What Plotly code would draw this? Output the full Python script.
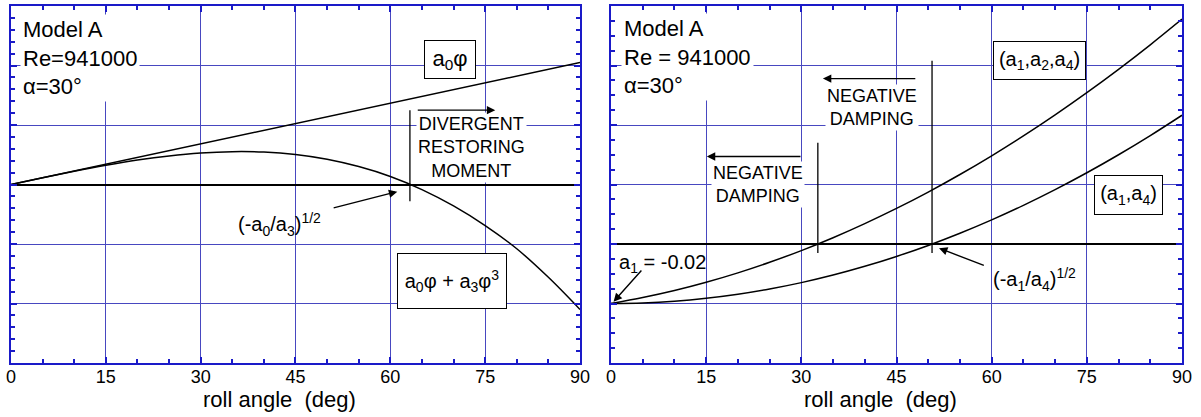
import plotly.graph_objects as go

# ---------------- data ----------------
phi = [0, 5, 10, 15, 20, 25, 30, 35, 40, 45, 50, 55, 60, 65, 70, 75, 80, 85, 90]

# left panel
lin_phi = [0, 90]
lin_moment = [0.0, 2.05]                     # a0*phi
cubic_moment = [0.0, 0.113, 0.222, 0.322, 0.410, 0.480, 0.529, 0.552, 0.545, 0.504,
                0.424, 0.301, 0.135, -0.085, -0.360, -0.690, -1.080, -1.560, -2.100]
left_root = 63.1                             # (-a0/a3)^1/2
left_root_span = [-0.28, 1.25]

# right panel
damp_a124 = [-1.0, -0.900, -0.782, -0.643, -0.485, -0.307, -0.111, 0.106, 0.343, 0.598,
             0.873, 1.168, 1.482, 1.816, 2.170, 2.543, 2.935, 3.347, 3.779]
damp_a14 = [-1.0, -0.990, -0.961, -0.912, -0.844, -0.756, -0.649, -0.522, -0.375, -0.209,
            -0.024, 0.181, 0.406, 0.650, 0.914, 1.197, 1.500, 1.822, 2.164]
root_a124 = 32.6
root_a124_span = [-0.15, 1.70]
root_a14 = 50.6                              # (-a1/a4)^1/2
root_a14_span = [-0.15, 3.08]

x_tick_vals = [0, 15, 30, 45, 60, 75, 90]
x_tick_text = ["0", "15", "30", "45", "60", "75", "90"]
x_title = "roll angle  (deg)"

# ---------------- styling ----------------
FONT = "Liberation Sans, Arial, sans-serif"
AXIS_BLUE = "#1a1ac8"
GRID_BLUE = "#4848c0"
LINE = dict(color="black", width=1.5)

fig = go.Figure()

# left traces
fig.add_trace(go.Scatter(x=lin_phi, y=lin_moment, mode="lines", line=LINE,
                         xaxis="x", yaxis="y", showlegend=False))
fig.add_trace(go.Scatter(x=phi, y=cubic_moment, mode="lines", line=dict(LINE, shape="spline"),
                         xaxis="x", yaxis="y", showlegend=False))
fig.add_trace(go.Scatter(x=[left_root, left_root], y=left_root_span, mode="lines",
                         line=dict(color="black", width=1.3), xaxis="x", yaxis="y", showlegend=False))

# right traces
fig.add_trace(go.Scatter(x=phi, y=damp_a124, mode="lines", line=dict(LINE, shape="spline"),
                         xaxis="x2", yaxis="y2", showlegend=False))
fig.add_trace(go.Scatter(x=phi, y=damp_a14, mode="lines", line=dict(LINE, shape="spline"),
                         xaxis="x2", yaxis="y2", showlegend=False))
fig.add_trace(go.Scatter(x=[root_a124, root_a124], y=root_a124_span, mode="lines",
                         line=dict(color="black", width=1.3), xaxis="x2", yaxis="y2", showlegend=False))
fig.add_trace(go.Scatter(x=[root_a14, root_a14], y=root_a14_span, mode="lines",
                         line=dict(color="black", width=1.3), xaxis="x2", yaxis="y2", showlegend=False))


def xaxis_cfg(domain, anchor):
    return dict(
        domain=domain, anchor=anchor, range=[0, 90],
        tickmode="array", tickvals=x_tick_vals, ticktext=x_tick_text,
        ticks="inside", ticklen=6, tickwidth=1.5, tickcolor=AXIS_BLUE,
        showline=True, linecolor=AXIS_BLUE, linewidth=2, mirror="ticks",
        showgrid=True, gridcolor=GRID_BLUE, gridwidth=1,
        zeroline=False,
        tickfont=dict(family=FONT, size=18, color="black"),
        ticklabelstandoff=-4,
        minor=dict(dtick=5, tick0=0, ticks="inside", ticklen=4, tickcolor=AXIS_BLUE,
                   showgrid=False),
    )


def yaxis_cfg(rng, anchor, minor_dtick):
    return dict(
        range=rng, anchor=anchor, domain=[0, 1],
        dtick=1, tick0=0, showticklabels=False,
        ticks="inside", ticklen=6, tickwidth=1.5, tickcolor=AXIS_BLUE,
        showline=True, linecolor=AXIS_BLUE, linewidth=2, mirror="ticks",
        showgrid=True, gridcolor=GRID_BLUE, gridwidth=1,
        zeroline=True, zerolinecolor="black", zerolinewidth=1.5,
        minor=dict(dtick=minor_dtick, ticks="inside", ticklen=4, tickcolor=AXIS_BLUE,
                   showgrid=False),
    )


fig.update_layout(
    width=1201, height=417,
    margin=dict(l=11, r=19, t=4, b=54),
    paper_bgcolor="white", plot_bgcolor="white",
    font=dict(family=FONT, color="black"),
    xaxis=xaxis_cfg([0, 0.4859], "y"),
    yaxis=yaxis_cfg([-3, 3], "x", 0.2),
    xaxis2=xaxis_cfg([0.5124, 1], "y2"),
    yaxis2=yaxis_cfg([-2, 4], "x2", 0.25),
)

ann = []
# axis titles (offset left of centre as in the original)
ann.append(dict(xref="x", yref="paper", x=42.4, y=-0.103, yanchor="middle", text=x_title,
                showarrow=False, font=dict(size=22)))
ann.append(dict(xref="x2", yref="paper", x=42.4, y=-0.103, yanchor="middle", text=x_title,
                showarrow=False, font=dict(size=22)))

# ----- left panel text -----
ann.append(dict(xref="x", yref="y", x=1.5, y=2.87, xanchor="left", yanchor="top", align="left",
                text="Model A<br>Re=941000<br>α=30°", showarrow=False,
                font=dict(size=22), bgcolor="white", borderpad=2))
ann.append(dict(xref="x", yref="y", x=69.4, y=2.1, text="a<sub>0</sub>φ", showarrow=False,
                font=dict(size=22), bgcolor="white", bordercolor="black", borderwidth=1,
                width=50, height=37, borderpad=0))
ann.append(dict(xref="x", yref="y", x=69.8, y=-1.63, text="a<sub>0</sub>φ + a<sub>3</sub>φ<sup>3</sup>",
                showarrow=False, font=dict(size=20), bgcolor="white", bordercolor="black",
                borderwidth=1, width=108, height=54, borderpad=0))
ann.append(dict(xref="x", yref="y", x=72.9, y=0.62, text="DIVERGENT<br>RESTORING<br>MOMENT",
                showarrow=False, font=dict(size=18), bgcolor="white", borderpad=1))
ann.append(dict(xref="x", yref="y", x=76.6, y=1.25, ax=64.1, ay=1.25, axref="x", ayref="y",
                text="", showarrow=True, arrowhead=2, arrowsize=1.2, arrowwidth=1.4, arrowcolor="black"))
ann.append(dict(xref="x", yref="y", x=42.4, y=-0.68, text="(-a<sub>0</sub>/a<sub>3</sub>)<sup>1/2</sup>",
                showarrow=False, font=dict(size=20)))
ann.append(dict(xref="x", yref="y", x=61.1, y=-0.12, ax=50.8, ay=-0.40, axref="x", ayref="y",
                text="", showarrow=True, arrowhead=2, arrowsize=1.2, arrowwidth=1.4, arrowcolor="black"))

# ----- right panel text -----
ann.append(dict(xref="x2", yref="y2", x=1.5, y=3.89, xanchor="left", yanchor="top", align="left",
                text="Model A<br>Re = 941000<br>α=30°", showarrow=False,
                font=dict(size=22), bgcolor="white", borderpad=2))
ann.append(dict(xref="x2", yref="y2", x=67.6, y=3.08, text="(a<sub>1</sub>,a<sub>2</sub>,a<sub>4</sub>)",
                showarrow=False, font=dict(size=20), bgcolor="white", bordercolor="black",
                borderwidth=1, width=91, height=37, borderpad=0))
ann.append(dict(xref="x2", yref="y2", x=81.5, y=0.83, text="(a<sub>1</sub>,a<sub>4</sub>)",
                showarrow=False, font=dict(size=20), bgcolor="white", bordercolor="black",
                borderwidth=1, width=67, height=38, borderpad=0))
ann.append(dict(xref="x2", yref="y2", x=41.1, y=2.3, text="NEGATIVE<br>DAMPING",
                showarrow=False, font=dict(size=18), bgcolor="white", borderpad=1))
ann.append(dict(xref="x2", yref="y2", x=23.2, y=1.0, text="NEGATIVE<br>DAMPING",
                showarrow=False, font=dict(size=18), bgcolor="white", borderpad=1))
ann.append(dict(xref="x2", yref="y2", x=33.4, y=2.78, ax=48.2, ay=2.78, axref="x2", ayref="y2",
                text="", showarrow=True, arrowhead=2, arrowsize=1.2, arrowwidth=1.4, arrowcolor="black"))
ann.append(dict(xref="x2", yref="y2", x=15.1, y=1.47, ax=30.1, ay=1.47, axref="x2", ayref="y2",
                text="", showarrow=True, arrowhead=2, arrowsize=1.2, arrowwidth=1.4, arrowcolor="black"))
ann.append(dict(xref="x2", yref="y2", x=0.9, y=-0.32, xanchor="left", text="a<sub>1</sub> = -0.02",
                showarrow=False, font=dict(size=20)))
ann.append(dict(xref="x2", yref="y2", x=0.4, y=-0.97, ax=5.0, ay=-0.42, axref="x2", ayref="y2",
                text="", showarrow=True, arrowhead=2, arrowsize=1.2, arrowwidth=1.4, arrowcolor="black"))
ann.append(dict(xref="x2", yref="y2", x=59.9, y=-0.6, xanchor="left",
                text="(-a<sub>1</sub>/a<sub>4</sub>)<sup>1/2</sup>", showarrow=False, font=dict(size=20)))
ann.append(dict(xref="x2", yref="y2", x=51.7, y=-0.07, ax=59.0, ay=-0.37, axref="x2", ayref="y2",
                text="", showarrow=True, arrowhead=2, arrowsize=1.2, arrowwidth=1.4, arrowcolor="black"))

fig.update_layout(annotations=ann)

fig.write_html("out.html")
